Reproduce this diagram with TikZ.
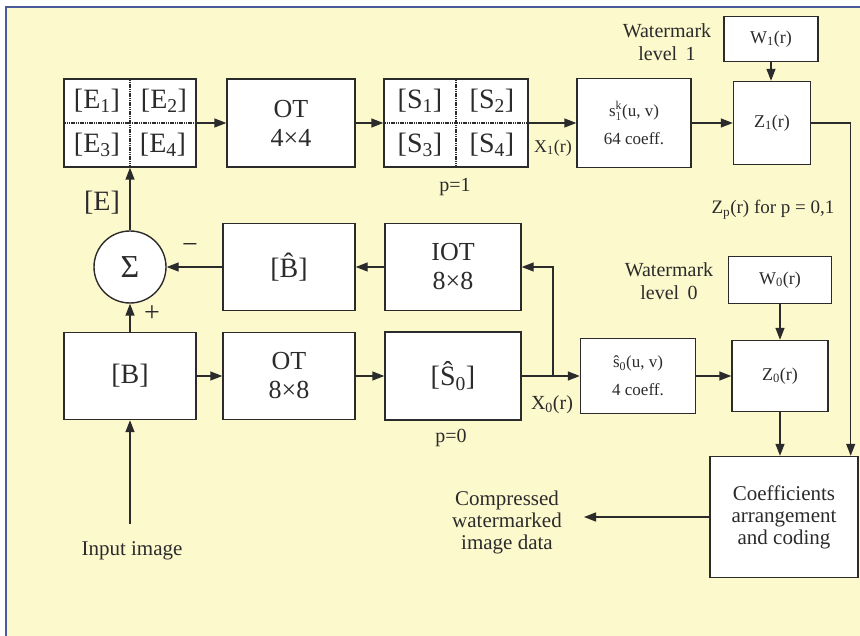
\documentclass[tikz,border=0pt]{standalone}
\usepackage{fontspec}
\setmainfont{Liberation Serif}
\usetikzlibrary{arrows.meta,positioning,calc}
\definecolor{paper}{HTML}{FCF9CD}
\definecolor{frameblue}{HTML}{4A5A9A}
\definecolor{ink}{HTML}{2B2B2B}

\begin{document}
\begin{tikzpicture}[
    x=1pt, y=-1pt,
    box/.style={draw=ink, fill=white, line width=1.4pt, inner sep=0pt, align=center, text=ink},
    sumnode/.style={draw=ink, fill=white, line width=1.4pt, circle, minimum size=72pt, inner sep=0pt, text=ink},
    arrow/.style={-{Triangle[length=12pt,width=9pt]}, line width=1.4pt, draw=ink},
    grid/.style={ink, line width=1.6pt, dash pattern=on 1.2pt off 0.6pt},
    lbl/.style={text=ink, align=center, inner sep=0pt},
    big/.style={font=\fontsize{28}{30}\selectfont},
    mid/.style={font=\fontsize{26}{29}\selectfont},
    small/.style={font=\fontsize{17}{28}\selectfont},
    txt/.style={font=\fontsize{20}{23}\selectfont}
]
% background
\useasboundingbox (0,0) rectangle (860,636);
\fill[white] (0,0) rectangle (860,636);
\fill[paper] (6,7) rectangle (860,636);
\draw[frameblue, line width=1.6pt] (6,636) -- (6,7) -- (860,7);

% level p=1
\node[box, minimum width=132pt, minimum height=88pt] (ebox) at (130,123) {};
\draw[grid] (ebox.north) -- (ebox.south);
\draw[grid] (ebox.west) -- (ebox.east);
\node[lbl, big] (e1) at (97,101) {[E\textsubscript{1}]};
\node[lbl, big] (e2) at (164,101) {[E\textsubscript{2}]};
\node[lbl, big] (e3) at (97,145) {[E\textsubscript{3}]};
\node[lbl, big] (e4) at (163,145) {[E\textsubscript{4}]};
\node[box, mid, minimum width=128pt, minimum height=88pt] (otfour) at (291,123) {OT\\4×4};
\node[box, minimum width=144pt, minimum height=88pt] (sbox) at (456,123) {};
\draw[grid] (sbox.north) -- (sbox.south);
\draw[grid] (sbox.west) -- (sbox.east);
\node[lbl, big] (s1) at (420,101) {[S\textsubscript{1}]};
\node[lbl, big] (s2) at (492,101) {[S\textsubscript{2}]};
\node[lbl, big] (s3) at (420,145) {[S\textsubscript{3}]};
\node[lbl, big] (s4) at (492,145) {[S\textsubscript{4}]};
\node[lbl, txt] (pone) at (455,187) {p=1};
\node[box, small, minimum width=114pt, minimum height=89pt] (sonebox) at (634,123) {s$^{\mathrm{k}}_{1}$(u, v)\\64 coeff.};
\node[lbl, font=\fontsize{18}{20}\selectfont] (xone) at (553,148) {X\textsubscript{1}(r)};
\node[box, font=\fontsize{18}{20}\selectfont, minimum width=77pt, minimum height=83pt] (zone) at (772,123) {Z\textsubscript{1}(r)};
\node[box, font=\fontsize{18}{20}\selectfont, minimum width=94pt, minimum height=45pt] (wone) at (771,39) {W\textsubscript{1}(r)};
\node[lbl, txt] (wmone) at (667,42) {Watermark\\level\, 1};
\node[lbl, font=\fontsize{19}{21}\selectfont] (zp) at (773,210) {Z\textsubscript{p}(r) for p = 0,1};

% feedback and level p=0
\node[sumnode, font=\fontsize{32}{34}\selectfont] (sum) at (130,267) {Σ};
\node[lbl, big] (elbl) at (102,203) {[E]};
\node[lbl, font=\fontsize{28}{30}\selectfont] (minus) at (190,249) {−};
\node[lbl, font=\fontsize{28}{30}\selectfont] (plus) at (152,314) {+};
\node[box, big, minimum width=132pt, minimum height=87pt] (bhat) at (289,267) {[\^{B}]};
\node[box, mid, minimum width=136pt, minimum height=87pt] (iot) at (453,267) {IOT\\8×8};
\node[box, big, minimum width=132pt, minimum height=87pt] (bbox) at (130,376) {[B]};
\node[box, mid, minimum width=132pt, minimum height=87pt] (oteight) at (289,376) {OT\\8×8};
\node[box, big, minimum width=136pt, minimum height=88pt] (shat) at (453,376) {[\^{S}\textsubscript{0}]};
\node[lbl, txt] (pzero) at (451,438) {p=0};
\node[lbl, txt] (xzero) at (552,405) {X\textsubscript{0}(r)};
\coordinate (split) at (553,376);
\node[box, small, minimum width=115pt, minimum height=75pt] (szerobox) at (638,376) {\^{s}\textsubscript{0}(u, v)\\4 coeff.};
\node[box, font=\fontsize{18}{20}\selectfont, minimum width=96pt, minimum height=71pt] (zzero) at (780,376) {Z\textsubscript{0}(r)};
\node[box, font=\fontsize{18}{20}\selectfont, minimum width=103pt, minimum height=47pt] (wzero) at (780,280) {W\textsubscript{0}(r)};
\node[lbl, txt] (wmzero) at (669,281) {Watermark\\level\, 0};
\node[box, font=\fontsize{21}{22}\selectfont, minimum width=148pt, minimum height=121pt] (coeff) at (784,517) {Coefficients\\arrangement\\and coding};
\node[lbl, font=\fontsize{21}{22}\selectfont] (comp) at (507,522) {Compressed\\watermarked\\image data};
\node[lbl, font=\fontsize{21}{23}\selectfont] (inp) at (132,551) {Input image};
\coordinate (compin) at ([xshift=22pt]comp.east);

\draw[arrow] (ebox.east) -- (otfour.west);
\draw[arrow] (otfour.east) -- (sbox.west);
\draw[arrow] (sbox.east) -- (sonebox.west);
\draw[arrow] (sonebox.east) -- (zone.west);
\draw[arrow] (wone.south) -- (wone.south |- zone.north);
\draw[arrow] (zone.east) -| ([xshift=-8pt]coeff.north east);
\draw[arrow] (sum.north) -- (ebox.south);
\draw[arrow] (bhat.west) -- (sum.east);
\draw[arrow] (iot.west) -- (bhat.east);
\draw[arrow] (bbox.north) -- (sum.south);
\draw[arrow] (bbox.east) -- (oteight.west);
\draw[arrow] (oteight.east) -- (shat.west);
\draw[arrow] (shat.east) -- (szerobox.west);
\draw[arrow] (split) |- (iot.east);
\draw[arrow] (szerobox.east) -- (zzero.west);
\draw[arrow] (wzero.south) -- (zzero.north);
\draw[arrow] (zzero.south) -- (zzero.south |- coeff.north);
\draw[arrow] (coeff.west) -- (coeff.west -| compin);
\draw[arrow, shorten <=18pt] (inp.north -| bbox.south) -- (bbox.south);
\end{tikzpicture}
\end{document}
